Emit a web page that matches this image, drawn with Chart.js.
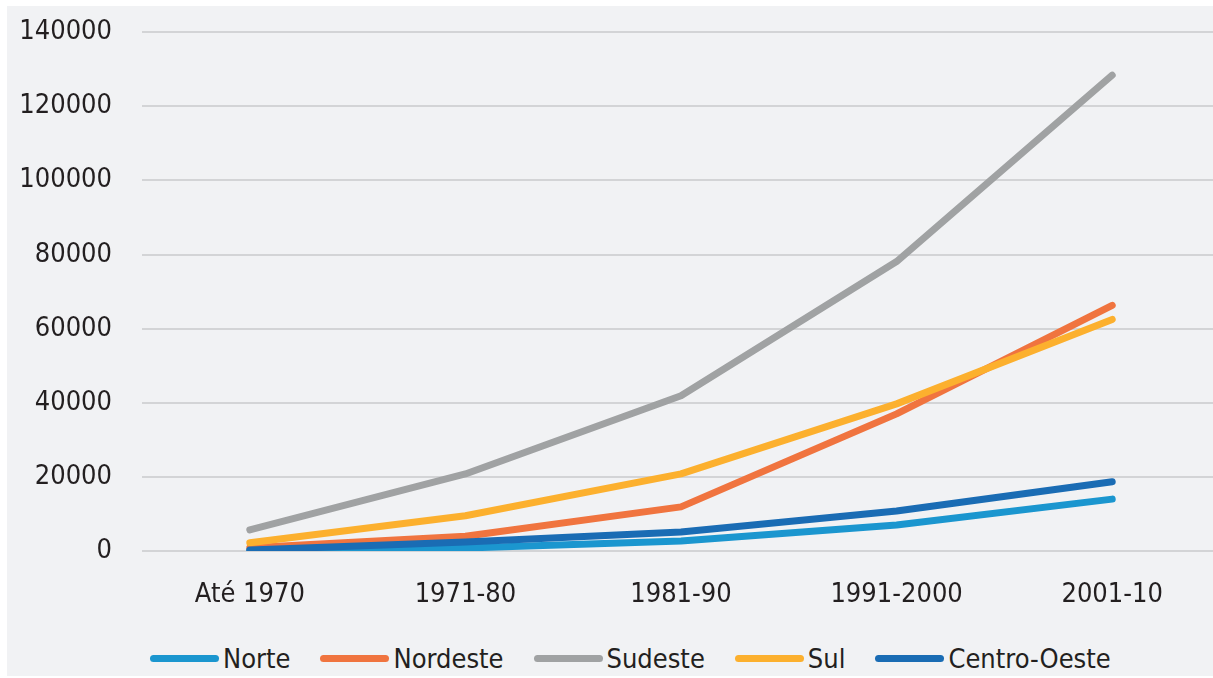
<!DOCTYPE html>
<html>
<head>
<meta charset="utf-8">
<script src="https://cdn.jsdelivr.net/npm/chart.js@4"></script>
<style>
  html, body { margin: 0; padding: 0; background: #fff; overflow: hidden; }
  #panel {
    position: absolute; left: 7px; top: 6px; width: 1213px; height: 670px;
    background: #f1f2f4;
  }
  #wrap { position: absolute; left: 0; top: -20px; width: 1213px; height: 642px; }
  #legend {
    position: absolute; left: 143px; top: 632px; height: 40px;
    display: flex; align-items: center; white-space: nowrap;
    font-family: "DejaVu Sans Condensed", "Liberation Sans Narrow", sans-serif;
    font-size: 27px; color: #231f20;
  }
  .item { display: flex; align-items: center; margin-right: 30px; }
  .swatch { width: 69px; height: 7px; border-radius: 4px; margin-right: 4px; }
</style>
</head>
<body>
<div id="panel">
  <div id="wrap"><canvas id="c"></canvas></div>
  <div id="legend"></div>
</div>
<script>
// ── Dados ────────────────────────────────────────────────────────────────
const CATEGORIES = ['Até 1970', '1971-80', '1981-90', '1991-2000', '2001-10'];
const Y_TICKS = [0, 20000, 40000, 60000, 80000, 100000, 120000, 140000];

const NORTE = [200, 800, 2700, 7000, 14000];
const NORDESTE = [900, 4000, 11900, 37000, 66300];
const SUDESTE = [5700, 20800, 41900, 78100, 128400];
const SUL = [2200, 9500, 20800, 39700, 62500];
const CENTRO_OESTE = [300, 2400, 5100, 10800, 18700];

const SERIES = [
  { label: 'Norte', data: NORTE, color: '#1b96cf' },
  { label: 'Nordeste', data: NORDESTE, color: '#f0743f' },
  { label: 'Sudeste', data: SUDESTE, color: '#a0a2a3' },
  { label: 'Sul', data: SUL, color: '#fcb02e' },
  { label: 'Centro-Oeste', data: CENTRO_OESTE, color: '#1a6cb4' },
];

const FONT = '"DejaVu Sans Condensed", "Liberation Sans Narrow", sans-serif';

// ── Gráfico ──────────────────────────────────────────────────────────────
new Chart(document.getElementById('c'), {
  type: 'line',
  data: {
    labels: CATEGORIES,
    datasets: SERIES.map((s, i) => ({
      label: s.label,
      data: s.data,
      borderColor: s.color,
      backgroundColor: s.color,
      borderWidth: 7,
      borderCapStyle: 'round',
      borderJoinStyle: 'round',
      pointRadius: 0,
      tension: 0,
      order: SERIES.length - i, // Centro-Oeste por cima
    })),
  },
  options: {
    responsive: true,
    maintainAspectRatio: false,
    animation: false,
    layout: { padding: { top: 8, right: 0, left: 0, bottom: 0 } },
    plugins: {
      legend: { display: false },
      tooltip: { enabled: false },
    },
    scales: {
      x: {
        offset: true,
        grid: { display: false },
        border: { display: false },
        ticks: {
          color: '#231f20',
          font: { family: FONT, size: 27 },
          padding: 20,
          maxRotation: 0,
        },
        afterFit: s => { s.height = 77; },
      },
      y: {
        min: 0,
        max: 140000,
        afterBuildTicks: s => { s.ticks = Y_TICKS.map(v => ({ value: v })); },
        grid: { color: '#d3d4d6', lineWidth: 2, drawTicks: false },
        border: { display: false },
        ticks: {
          color: '#231f20',
          font: { family: FONT, size: 27 },
          padding: 30,
          callback: v => String(v),
        },
        afterFit: s => { s.width = 135; },
      },
    },
  },
});

// ── Legenda ──────────────────────────────────────────────────────────────
const legend = document.getElementById('legend');
SERIES.forEach(s => {
  const item = document.createElement('div');
  item.className = 'item';
  const sw = document.createElement('span');
  sw.className = 'swatch';
  sw.style.background = s.color;
  const txt = document.createElement('span');
  txt.textContent = s.label;
  item.appendChild(sw);
  item.appendChild(txt);
  legend.appendChild(item);
});
</script>
</body>
</html>
